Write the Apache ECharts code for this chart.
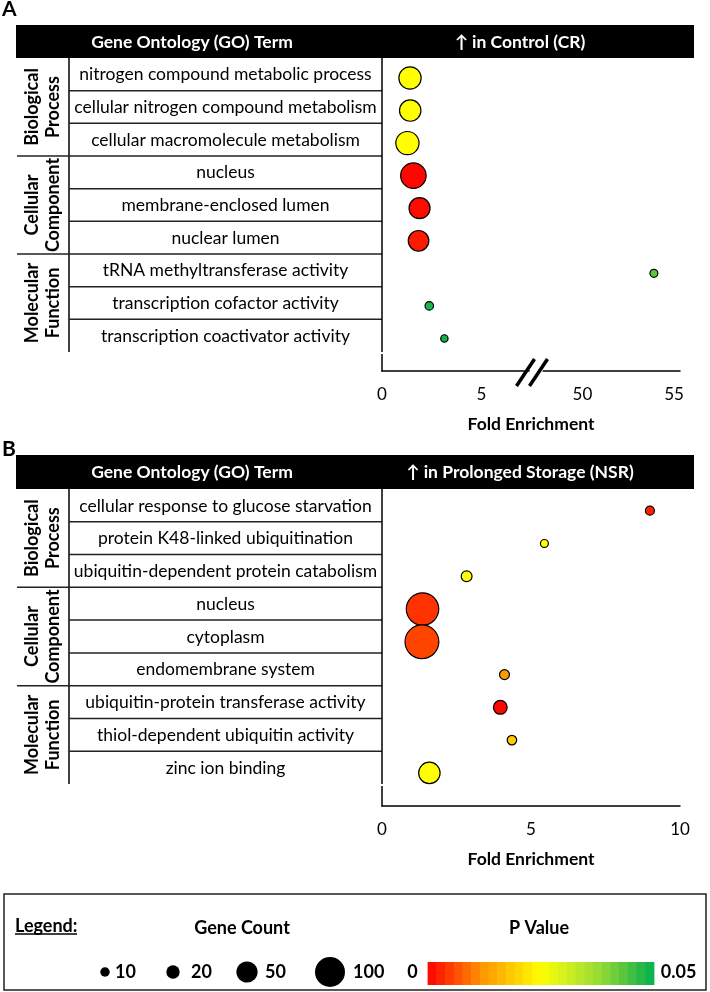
<!DOCTYPE html>
<html><head><meta charset="utf-8">
<script src="https://cdn.jsdelivr.net/npm/echarts@6/dist/echarts.min.js"></script>
<style>html,body{margin:0;padding:0;background:#fff}#c{width:710px;height:992px}</style>
</head><body><div id="c"></div>
<script>
const FONT = 'Lato';
// ---------- data ----------
const groups = ['Biological\nProcess', 'Cellular\nComponent', 'Molecular\nFunction'];
const groupSizes = [3, 3, 3];
const headerA = ['Gene Ontology (GO) Term', '↑ in Control (CR)'];
const headerB = ['Gene Ontology (GO) Term', '↑ in Prolonged Storage (NSR)'];
const termsA = ['nitrogen compound metabolic process', 'cellular nitrogen compound metabolism',
  'cellular macromolecule metabolism', 'nucleus', 'membrane-enclosed lumen', 'nuclear lumen',
  'tRNA methyltransferase activity', 'transcription cofactor activity', 'transcription coactivator activity'];
const foldA = [1.41, 1.42, 1.28, 1.58, 1.89, 1.84, 53.9, 2.38, 3.14];
const countA = [55, 51, 60, 72, 49, 47, 7, 8, 6];
const pA = [0.025, 0.025, 0.025, 0.0005, 0.001, 0.002, 0.043, 0.048, 0.049];
const termsB = ['cellular response to glucose starvation', 'protein K48-linked ubiquitination',
  'ubiquitin-dependent protein catabolism', 'nucleus', 'cytoplasm', 'endomembrane system',
  'ubiquitin-protein transferase activity', 'thiol-dependent ubiquitin activity', 'zinc ion binding'];
const foldB = [8.99, 5.45, 2.84, 1.36, 1.34, 4.11, 3.97, 4.36, 1.59];
const countB = [9, 7, 13, 117, 127, 11, 21, 10, 51];
const pB = [0.0026, 0.025, 0.025, 0.0041, 0.0055, 0.0125, 0.0005, 0.0188, 0.025];
const ticksA = [0, 5, 50, 55];   // broken axis: 0..7.5 | 50..55
const ticksB = [0, 5, 10];
const breakFrom = 7.5;
const legendCounts = [10, 20, 50, 100];
const pMin = 0, pMax = 0.05;
const pColors = ['#ff0000', '#ff4d00', '#ff9900', '#ffcc00', '#ffff00', '#ccee22', '#99dd33', '#55c43f', '#00b050'];
const axisName = 'Fold Enrichment';

// ---------- helpers ----------
const sizeOf = n => 3 * Math.sqrt(n);
// broken-axis transform: lower segment 1:1, upper segment starts at 10.09 (for 50) with its own scale
const UPPER_AT = 50, UPPER_POS = 10.09, UPPER_SCALE = 0.922;
const mapA = f => f > breakFrom ? UPPER_POS + (f - UPPER_AT) * UPPER_SCALE : f;
function hex2rgb(h) { return [1, 3, 5].map(i => parseInt(h.substr(i, 2), 16)); }
function lerpColor(t, cols) {
  const s = t * (cols.length - 1), i = Math.min(Math.floor(s), cols.length - 2), f = s - i;
  const a = hex2rgb(cols[i]), b = hex2rgb(cols[i + 1]);
  return 'rgb(' + a.map((v, k) => Math.round(v + (b[k] - v) * f)).join(',') + ')';
}

const PLOT_L = 382, PLOT_R = 680, TABLE_L = 16, GROUP_R = 69, HEAD_R = 694;
const FS = 17.5;
const P = {
  A: { headTop: 25, headBot: 58, rowH: 32.67, axisY: 371, yMin: -0.614, yMax: 9.0, label: 'A', labelY: 9 },
  B: { headTop: 455, headBot: 489, rowH: 32.78, axisY: 806, yMin: -0.662, yMax: 9.01, label: 'B', labelY: 449 }
};

const chart = echarts.init(document.getElementById('c'), null, { renderer: 'canvas' });

function txtStyle(extra) {
  return Object.assign({ fill: '#000', fontFamily: FONT, fontSize: FS, align: 'center', verticalAlign: 'middle' }, extra);
}

function tableGraphics(p, header, terms) {
  const g = [];
  g.push({ type: 'text', x: 2, y: p.labelY, style: txtStyle({ text: p.label, fontSize: 21, fontWeight: 'bold', align: 'left' }) });
  g.push({ type: 'rect', shape: { x: TABLE_L, y: p.headTop, width: HEAD_R - TABLE_L, height: p.headBot - p.headTop }, style: { fill: '#000' } });
  const hy = (p.headTop + p.headBot) / 2 + 0.5;
  g.push({ type: 'text', x: 192, y: hy, style: txtStyle({ text: header[0], fill: '#fff', fontWeight: 'bold' }) });
  g.push({ type: 'text', x: 520, y: hy, style: txtStyle({ text: header[1], fill: '#fff', fontWeight: 'bold' }) });
  const n = terms.length;
  const bottom = p.headBot + n * p.rowH;
  g.push({ type: 'line', shape: { x1: GROUP_R, y1: p.headBot, x2: GROUP_R, y2: bottom }, style: { stroke: '#111', lineWidth: 1.6 } });
  const bounds = [];
  let acc = 0; groupSizes.forEach(s => { acc += s; bounds.push(acc); });
  for (let k = 1; k < n; k++) {
    const y = p.headBot + k * p.rowH;
    const isG = bounds.indexOf(k) >= 0;
    g.push({ type: 'line', shape: { x1: isG ? TABLE_L + 1 : GROUP_R, y1: y, x2: PLOT_L, y2: y }, style: { stroke: '#222', lineWidth: 1.5 } });
  }
  terms.forEach((t, i) => {
    g.push({ type: 'text', x: (GROUP_R + PLOT_L) / 2, y: p.headBot + (i + 0.5) * p.rowH + 0.5, style: txtStyle({ text: t }) });
  });
  let start = 0;
  groups.forEach((name, gi) => {
    const cy = p.headBot + (start + groupSizes[gi] / 2) * p.rowH;
    g.push({ type: 'text', x: 43, y: cy, rotation: Math.PI / 2, style: txtStyle({ text: name, fontWeight: 'bold', fontSize: 18, lineHeight: 21 }) });
    start += groupSizes[gi];
  });
  g.push({ type: 'rect', z: 100, shape: { x: PLOT_L - 3, y: bottom, width: 6, height: 2 }, style: { fill: '#fff' } });
  return g;
}

function xAxisCfg(gi, max, labelCfg) {
  return {
    gridIndex: gi, type: 'value', min: 0, max: max,
    axisLine: { show: true, onZero: false, lineStyle: { color: '#000', width: 1.5 } },
    axisTick: { show: false }, splitLine: { show: false },
    axisLabel: Object.assign({ fontFamily: FONT, fontSize: 17, color: '#000', margin: 15 }, labelCfg),
    name: axisName, nameLocation: 'middle', nameGap: 44,
    nameTextStyle: { fontFamily: FONT, fontSize: 17.5, fontWeight: 'bold', color: '#000' }
  };
}
function yAxisCfg(gi, p) {
  return {
    gridIndex: gi, type: 'value', inverse: true, min: p.yMin, max: p.yMax,
    axisLine: { show: true, onZero: false, lineStyle: { color: '#000', width: 1.5 } },
    axisTick: { show: false }, axisLabel: { show: false }, splitLine: { show: false }
  };
}
function seriesCfg(gi, terms, fold, count, pv, mapFn) {
  return {
    type: 'scatter', xAxisIndex: gi, yAxisIndex: gi, silent: true, z: 5,
    data: terms.map((t, i) => [mapFn(fold[i]), i, count[i], pv[i], t]),
    symbolSize: d => sizeOf(d[2]),
    itemStyle: { borderColor: '#000', borderWidth: 1.2, opacity: 1 },
    emphasis: { disabled: true }
  };
}

const tickPosA = ticksA.map(mapA);
const option = {
  animation: false,
  backgroundColor: '#fff',
  grid: [
    { left: PLOT_L, width: PLOT_R - PLOT_L, top: P.A.headBot, height: P.A.axisY - P.A.headBot },
    { left: PLOT_L, width: PLOT_R - PLOT_L, top: P.B.headBot, height: P.B.axisY - P.B.headBot }
  ],
  xAxis: [
    xAxisCfg(0, 15, {
      customValues: tickPosA,
      formatter: v => {
        let best = 0;
        tickPosA.forEach((t, i) => { if (Math.abs(t - v) < Math.abs(tickPosA[best] - v)) best = i; });
        return String(ticksA[best]);
      }
    }),
    xAxisCfg(1, ticksB[ticksB.length - 1], { customValues: ticksB, formatter: v => String(v) })
  ],
  yAxis: [yAxisCfg(0, P.A), yAxisCfg(1, P.B)],
  visualMap: {
    type: 'continuous', show: false, min: pMin, max: pMax, dimension: 3, seriesIndex: [0, 1],
    inRange: { color: pColors }
  },
  series: [
    seriesCfg(0, termsA, foldA, countA, pA, mapA),
    seriesCfg(1, termsB, foldB, countB, pB, f => f)
  ]
};
chart.setOption(option);

// ---------- graphics: tables, axis break, legend ----------
const g = [].concat(tableGraphics(P.A, headerA, termsA), tableGraphics(P.B, headerB, termsB));
const bx = chart.convertToPixel({ xAxisIndex: 0 }, 7.55);
const ay = P.A.axisY;
g.push({ type: 'polygon', z: 50, shape: { points: [[bx - 7, ay + 14], [bx + 6, ay + 14], [bx + 15, ay - 13], [bx + 2, ay - 13]] }, style: { fill: '#fff' } });
[-6.5, 6.5].forEach(o => {
  g.push({ type: 'line', z: 51, shape: { x1: bx + o - 9, y1: ay + 15, x2: bx + o + 9, y2: ay - 12 }, style: { stroke: '#000', lineWidth: 3.5 } });
});
// legend box
const LF = 18;
g.push({ type: 'rect', shape: { x: 4, y: 894, width: 702, height: 96 }, style: { fill: 'none', stroke: '#222', lineWidth: 1.5 } });
g.push({ type: 'text', x: 15, y: 926, style: txtStyle({ text: 'Legend:', fontWeight: 'bold', fontSize: LF, align: 'left' }) });
g.push({ type: 'line', shape: { x1: 15, y1: 934, x2: 77, y2: 934 }, style: { stroke: '#000', lineWidth: 1.3 } });
g.push({ type: 'text', x: 242, y: 928, style: txtStyle({ text: 'Gene Count', fontWeight: 'bold', fontSize: LF }) });
g.push({ type: 'text', x: 539, y: 928, style: txtStyle({ text: 'P Value', fontWeight: 'bold', fontSize: LF }) });
const legCx = [105, 173, 247, 330], legTx = [115, 191, 265, 353];
legendCounts.forEach((n, i) => {
  g.push({ type: 'circle', shape: { cx: legCx[i], cy: 972, r: sizeOf(n) / 2 }, style: { fill: '#000' } });
  g.push({ type: 'text', x: legTx[i], y: 972.5, style: txtStyle({ text: String(n), fontWeight: 'bold', fontSize: LF, align: 'left' }) });
});
// p-value colour bar (stepped), colours from the same scale as the visualMap
const barX = 427.6, barW = 226.2, barY = 962, barH = 23, steps = 26;
for (let i = 0; i < steps; i++) {
  g.push({ type: 'rect', shape: { x: barX + i * barW / steps, y: barY, width: barW / steps + 0.6, height: barH }, style: { fill: lerpColor((i + 0.5) / steps, pColors) } });
}
g.push({ type: 'text', x: barX - 10, y: 972.5, style: txtStyle({ text: String(pMin), fontWeight: 'bold', fontSize: LF, align: 'right' }) });
g.push({ type: 'text', x: barX + barW + 7, y: 972.5, style: txtStyle({ text: String(pMax), fontWeight: 'bold', fontSize: LF, align: 'left' }) });
chart.setOption({ graphic: { elements: g } });
</script>
</body></html>
